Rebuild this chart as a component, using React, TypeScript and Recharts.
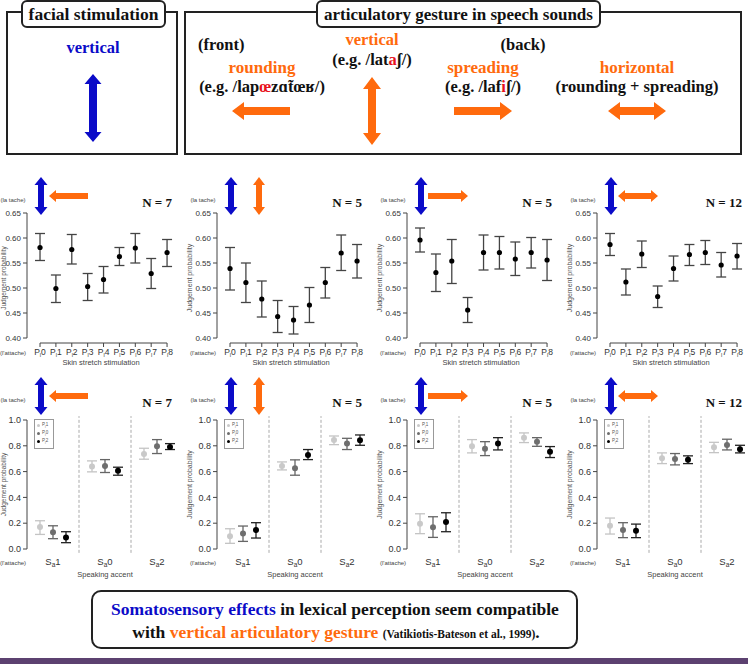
import React from 'react';
import { ScatterChart, Scatter, XAxis, YAxis, ErrorBar, ReferenceLine, Legend } from 'recharts';

const SERIF = '"Liberation Serif", "DejaVu Serif", serif';
const SANS = '"Liberation Sans", Arial, sans-serif';
const BLUE = '#0b0bc8';
const ORANGE = '#ff6a0d';
const RED = '#e8121c';
const AXIS = '#444';

// groups of listeners
const groupN = [7, 5, 5, 12];

// upper row: skin stretch levels P0..P8
const stretchLevels = ['0', '1', '2', '3', '4', '5', '6', '7', '8'];
const stretchTicks = [0.4, 0.45, 0.5, 0.55, 0.6, 0.65];
const stretchMean = [
  [0.581, 0.499, 0.577, 0.503, 0.517, 0.563, 0.58, 0.529, 0.571],
  [0.539, 0.511, 0.478, 0.443, 0.436, 0.466, 0.511, 0.57, 0.554],
  [0.596, 0.531, 0.554, 0.456, 0.571, 0.571, 0.558, 0.571, 0.556],
  [0.587, 0.512, 0.568, 0.483, 0.539, 0.567, 0.571, 0.546, 0.564],
];
const stretchLow = [
  [0.555, 0.471, 0.548, 0.475, 0.49, 0.545, 0.55, 0.499, 0.543],
  [0.496, 0.471, 0.442, 0.411, 0.408, 0.431, 0.48, 0.535, 0.52],
  [0.572, 0.493, 0.509, 0.431, 0.536, 0.538, 0.525, 0.54, 0.515],
  [0.565, 0.486, 0.541, 0.461, 0.514, 0.545, 0.547, 0.522, 0.538],
];
const stretchHigh = [
  [0.609, 0.526, 0.607, 0.529, 0.543, 0.581, 0.609, 0.559, 0.597],
  [0.581, 0.55, 0.514, 0.475, 0.463, 0.501, 0.541, 0.606, 0.587],
  [0.62, 0.568, 0.597, 0.481, 0.606, 0.603, 0.592, 0.601, 0.597],
  [0.609, 0.538, 0.594, 0.504, 0.564, 0.587, 0.595, 0.571, 0.589],
];

// lower row: speaking accent x stretch condition
const accentLevels = ['1', '0', '2'];
const accentTicks = [0, 0.2, 0.4, 0.6, 0.8, 1.0];
const stretchNames = ['1', '0', '2'];
const dotColors = ['#c9c9c9', '#6e6e6e', '#000000'];
const barColors = ['#c4c4c4', '#666666', '#222222'];
const seriesShift = [-0.25, 0, 0.25];

// [group][series][accent]
const accentMean = [
  [[0.17, 0.639, 0.737], [0.129, 0.644, 0.796], [0.09, 0.606, 0.791]],
  [[0.098, 0.644, 0.845], [0.121, 0.626, 0.817], [0.147, 0.729, 0.843]],
  [[0.196, 0.796, 0.863], [0.168, 0.778, 0.832], [0.209, 0.817, 0.753]],
  [[0.18, 0.704, 0.789], [0.147, 0.698, 0.807], [0.142, 0.691, 0.773]],
];
const accentLow = [
  [[0.113, 0.598, 0.696], [0.08, 0.593, 0.74], [0.049, 0.572, 0.771]],
  [[0.044, 0.613, 0.809], [0.059, 0.572, 0.771], [0.085, 0.693, 0.804]],
  [[0.119, 0.745, 0.825], [0.09, 0.724, 0.796], [0.134, 0.768, 0.709]],
  [[0.116, 0.662, 0.747], [0.088, 0.652, 0.768], [0.088, 0.662, 0.745]],
];
const accentHigh = [
  [[0.219, 0.683, 0.781], [0.18, 0.693, 0.848], [0.134, 0.634, 0.817]],
  [[0.157, 0.675, 0.876], [0.178, 0.691, 0.858], [0.204, 0.771, 0.884]],
  [[0.273, 0.848, 0.9], [0.25, 0.832, 0.863], [0.281, 0.863, 0.794]],
  [[0.24, 0.745, 0.827], [0.204, 0.74, 0.851], [0.193, 0.722, 0.804]],
];

const dot = (r: number, c: string) => (p: any) => <circle cx={p.cx} cy={p.cy} r={r} fill={c} />;

const stretchTick = (p: any) => (
  <text x={p.x} y={p.y + 6} textAnchor="middle" fontSize={8.5} fill="#333" fontFamily={SANS}>
    P<tspan fontSize={5.5} dy={1.5}>l</tspan>
    <tspan dy={-1.5}>{stretchLevels[p.payload.value]}</tspan>
  </text>
);

const accentTick = (p: any) => (
  <text x={p.x} y={p.y + 14} textAnchor="middle" fontSize={9.5} fill="#333" fontFamily={SANS}>
    S<tspan fontSize={6.5} dy={2}>a</tspan>
    <tspan dy={-2}>{accentLevels[p.payload.value]}</tspan>
  </text>
);

// rotated y title; the first panel sits at the page edge, so nudge it inside
const yTitle = (shift: number, size: number) => (p: any) => {
  const vb = p.viewBox || {};
  const cx = vb.x + vb.width / 2 + shift;
  const cy = vb.y + vb.height / 2;
  return (
    <text x={cx} y={cy} transform={`rotate(-90 ${cx} ${cy})`} textAnchor="middle" dominantBaseline="central"
      fontSize={size} fill="#555" fontFamily={SANS}>
      Judgement probability
    </text>
  );
};

const accentLegend = (props: any) => (
  <div style={{ border: '1px solid #999', padding: '2px 2px', background: '#fff', fontFamily: SANS, fontSize: 4.5, lineHeight: '6px', color: '#555' }}>
    {(props.payload || []).map((e: any) => (
      <div key={e.value} style={{ display: 'flex', alignItems: 'center', gap: 2 }}>
        <span style={{ display: 'inline-block', width: 3, height: 3, borderRadius: '50%', background: e.color }} />
        <span>P<sub style={{ fontSize: 3 }}>l</sub>{e.value}</span>
      </div>
    ))}
  </div>
);

function StretchPanel({ g }: { g: number }) {
  const rows = stretchLevels.map((_, i) => ({
    level: i,
    p: stretchMean[g][i],
    ci: [stretchMean[g][i] - stretchLow[g][i], stretchHigh[g][i] - stretchMean[g][i]],
  }));
  return (
    <div style={{ position: 'absolute', left: 190 * g - 29, top: 200 }}>
      <ScatterChart width={219} height={167} margin={{ top: 13, right: 15, bottom: 0, left: 0 }}>
        <XAxis
          type="number"
          dataKey="level"
          domain={[-0.82, 8.5]}
          ticks={stretchLevels.map((_, i) => i)}
          interval={0}
          axisLine={false}
          tickLine={{ stroke: AXIS }}
          tickSize={4}
          height={24}
          tick={stretchTick}
          label={{ value: 'Skin stretch stimulation', position: 'insideBottom', offset: 2, fontSize: 7.5, fill: '#444', fontFamily: SANS }}
        />
        <YAxis
          type="number"
          dataKey="p"
          domain={[0.39, 0.65]}
          ticks={stretchTicks}
          width={56}
          axisLine={false}
          tickLine={{ stroke: AXIS }}
          tickSize={4}
          tick={{ fontSize: 8, fill: '#333', fontFamily: SANS }}
          tickFormatter={(v: number) => v.toFixed(2)}
          label={yTitle(g === 0 ? 4.3 : 0, g === 0 ? 6.5 : 7)}
        />
        <ReferenceLine segment={[{ x: 0, y: 0.39 }, { x: 8, y: 0.39 }]} stroke={AXIS} ifOverflow="visible" />
        <ReferenceLine segment={[{ x: -0.82, y: 0.4 }, { x: -0.82, y: 0.65 }]} stroke={AXIS} ifOverflow="visible" />
        <Scatter data={rows} fill="#000" isAnimationActive={false} shape={dot(2.6, '#000')}>
          <ErrorBar dataKey="ci" direction="y" width={5} stroke={AXIS} strokeWidth={1.3} />
        </Scatter>
      </ScatterChart>
    </div>
  );
}

function AccentPanel({ g }: { g: number }) {
  return (
    <div style={{ position: 'absolute', left: 190 * g - 29, top: 405 }}>
      <ScatterChart width={217} height={174} margin={{ top: 15, right: 5, bottom: 0, left: 0 }}>
        <XAxis
          type="number"
          dataKey="x"
          domain={[-0.5, 2.5]}
          ticks={[0, 1, 2]}
          interval={0}
          axisLine={false}
          tickLine={false}
          tickSize={0}
          height={30}
          tick={accentTick}
          label={{ value: 'Speaking accent', position: 'insideBottom', offset: 2, fontSize: 7.5, fill: '#444', fontFamily: SANS }}
        />
        <YAxis
          type="number"
          dataKey="p"
          domain={[0, 1]}
          ticks={accentTicks}
          width={56}
          axisLine={{ stroke: AXIS }}
          tickLine={{ stroke: AXIS }}
          tickSize={4}
          tick={{ fontSize: 9, fill: '#333', fontFamily: SANS }}
          tickFormatter={(v: number) => v.toFixed(1)}
          label={yTitle(g === 0 ? 4.3 : 0, g === 0 ? 6.5 : 7)}
        />
        {[0.5, 1.5].map((x) => (
          <ReferenceLine key={x} segment={[{ x, y: -0.03 }, { x, y: 1.03 }]} stroke="#aaa" strokeDasharray="3 2" ifOverflow="visible" />
        ))}
        <Legend
          layout="vertical"
          align="center"
          verticalAlign="middle"
          content={accentLegend}
          itemSorter={(item: any) => stretchNames.indexOf(String(item.value))}
          wrapperStyle={{ left: 63, top: 14, width: 20 }}
        />
        {stretchNames.map((nm, s) => (
          <Scatter
            key={nm}
            name={nm}
            data={accentLevels.map((_, k) => ({
              x: k + seriesShift[s],
              p: accentMean[g][s][k],
              ci: [accentMean[g][s][k] - accentLow[g][s][k], accentHigh[g][s][k] - accentMean[g][s][k]],
            }))}
            fill={dotColors[s]}
            isAnimationActive={false}
            shape={dot(3, dotColors[s])}
          >
            <ErrorBar dataKey="ci" direction="y" width={5} stroke={barColors[s]} strokeWidth={1.3} />
          </Scatter>
        ))}
      </ScatterChart>
    </div>
  );
}

// arrow outlines
const pts = (a: number[][]) => a.map((p) => p.join(',')).join(' ');
const vArrow = (x: number, y1: number, y2: number, shaft: number, head: number, len: number) => {
  const s = shaft / 2, h = head / 2;
  return pts([[x, y1], [x + h, y1 + len], [x + s, y1 + len], [x + s, y2 - len], [x + h, y2 - len], [x, y2],
    [x - h, y2 - len], [x - s, y2 - len], [x - s, y1 + len], [x - h, y1 + len]]);
};
const hArrow = (x1: number, x2: number, y: number, shaft: number, head: number, len: number, left: boolean, right: boolean) => {
  const s = shaft / 2, h = head / 2;
  const l = left
    ? [[x1 + len, y - s], [x1 + len, y - h], [x1, y], [x1 + len, y + h], [x1 + len, y + s]]
    : [[x1, y - s], [x1, y + s]];
  const r = right
    ? [[x2 - len, y + s], [x2 - len, y + h], [x2, y], [x2 - len, y - h], [x2 - len, y - s]]
    : [[x2, y + s], [x2, y - s]];
  return pts([...l, ...r]);
};

function PanelArrows({ g, dy }: { g: number; dy: number }) {
  const ox = 190 * g;
  const y1 = 177 + dy, y2 = 215 + dy, hy = 196 + dy;
  return (
    <g>
      <polygon points={vArrow(ox + 41, y1, y2, 6, 13, 8)} fill={BLUE} />
      {g === 0 && <polygon points={hArrow(ox + 49, ox + 88, hy, 6, 12, 7, true, false)} fill={ORANGE} />}
      {g === 1 && <polygon points={vArrow(ox + 69, y1, y2, 6, 12, 8)} fill={ORANGE} />}
      {g === 2 && <polygon points={hArrow(ox + 48, ox + 88, hy, 6, 12, 7, false, true)} fill={ORANGE} />}
      {g === 3 && <polygon points={hArrow(ox + 48, ox + 88, hy, 6, 12, 7, true, true)} fill={ORANGE} />}
      <text x={ox + 13} y={y1 + 25} textAnchor="middle" fontSize={6} fill="#444" fontFamily={SANS}>(la tache)</text>
      <text x={ox + 172} y={hy + 11} textAnchor="end" fontSize={13} fontWeight="bold" fill="#111" fontFamily={SERIF}>
        N = {groupN[g]}
      </text>
    </g>
  );
}

export default function App() {
  const bold = { fontFamily: SERIF, fontWeight: 'bold' as const };
  return (
    <div style={{ position: 'absolute', left: 0, top: 0, width: 748, height: 664, overflow: 'hidden', background: '#fff' }}>
      {groupN.map((_, g) => <StretchPanel key={'s' + g} g={g} />)}
      {groupN.map((_, g) => <AccentPanel key={'a' + g} g={g} />)}
      <svg width={748} height={664} style={{ position: 'absolute', left: 0, top: 0, pointerEvents: 'none' }}>
        {/* facial stimulation box */}
        <rect x={7} y={12} width={170} height={142} fill="none" stroke="#222" strokeWidth={2} />
        <rect x={22} y={1} width={143} height={26} rx={5} fill="#fff" stroke="#222" strokeWidth={2} />
        <text x={93.5} y={20} textAnchor="middle" fontSize={17.5} fill="#111" {...bold}>facial stimulation</text>
        <text x={93} y={53} textAnchor="middle" fontSize={16.5} fill={BLUE} {...bold}>vertical</text>
        <polygon points={vArrow(93, 74, 142, 8, 17, 10)} fill={BLUE} />

        {/* articulatory gesture box */}
        <rect x={185} y={12} width={556} height={142} fill="none" stroke="#222" strokeWidth={2} />
        <rect x={317} y={1} width={283} height={26} rx={5} fill="#fff" stroke="#222" strokeWidth={2} />
        <text x={458.5} y={20} textAnchor="middle" fontSize={17} fill="#111" {...bold}>articulatory gesture in speech sounds</text>

        <text x={198} y={50} fontSize={16.5} fill="#111" {...bold}>(front)</text>
        <text x={523} y={50} textAnchor="middle" fontSize={16.5} fill="#111" {...bold}>(back)</text>

        <text x={372} y={45} textAnchor="middle" fontSize={16.5} fill={ORANGE} {...bold}>vertical</text>
        <text x={372} y={65} textAnchor="middle" fontSize={16.5} fill="#111" {...bold}>
          (e.g. /lat<tspan fill={RED}>a</tspan>ʃ/)
        </text>
        <text x={262} y={73} textAnchor="middle" fontSize={17} fill={ORANGE} {...bold}>rounding</text>
        <text x={262} y={92} textAnchor="middle" fontSize={16.5} fill="#111" {...bold}>
          (e.g. /lap<tspan fill={RED}>œ</tspan>zɑ̃tœʁ/)
        </text>
        <text x={483} y={73} textAnchor="middle" fontSize={17} fill={ORANGE} {...bold}>spreading</text>
        <text x={483} y={92} textAnchor="middle" fontSize={16.5} fill="#111" {...bold}>
          (e.g. /laf<tspan fill={RED}>i</tspan>ʃ/)
        </text>
        <text x={637} y={73} textAnchor="middle" fontSize={17} fill={ORANGE} {...bold}>horizontal</text>
        <text x={637} y={92} textAnchor="middle" fontSize={16.5} fill="#111" {...bold}>(rounding + spreading)</text>

        <polygon points={hArrow(232, 290, 111, 8, 18, 12, true, false)} fill={ORANGE} />
        <polygon points={vArrow(372, 77, 145, 8, 18, 12)} fill={ORANGE} />
        <polygon points={hArrow(454, 512, 111, 8, 18, 12, false, true)} fill={ORANGE} />
        <polygon points={hArrow(608, 666, 111, 8, 18, 12, true, true)} fill={ORANGE} />

        {/* panel headers */}
        {groupN.map((_, g) => <PanelArrows key={'u' + g} g={g} dy={0} />)}
        {groupN.map((_, g) => <PanelArrows key={'l' + g} g={g} dy={200} />)}
        {groupN.map((_, g) => (
          <g key={'t' + g}>
            <text x={190 * g + 13} y={355} textAnchor="middle" fontSize={6} fill="#444" fontFamily={SANS}>(l'attache)</text>
            <text x={190 * g + 13} y={565} textAnchor="middle" fontSize={6} fill="#444" fontFamily={SANS}>(l'attache)</text>
          </g>
        ))}

        {/* conclusion */}
        <rect x={92} y={591} width={485} height={57} rx={9} fill="#fff" stroke="#222" strokeWidth={2} />
        <text x={335} y={615} textAnchor="middle" fontSize={17.5} fill="#111" {...bold}>
          <tspan fill={BLUE}>Somatosensory effects</tspan> in lexical perception seem compatible
        </text>
        <text x={336} y={638} textAnchor="middle" fontSize={17.5} fill="#111" {...bold}>
          with <tspan fill={ORANGE}>vertical articulatory gesture</tspan>{' '}
          <tspan fontSize={11.5}>(Vatikiotis-Bateson et al., 1999)</tspan>.
        </text>
        <rect x={0} y={658} width={748} height={6} fill="#5c4170" />
      </svg>
    </div>
  );
}
